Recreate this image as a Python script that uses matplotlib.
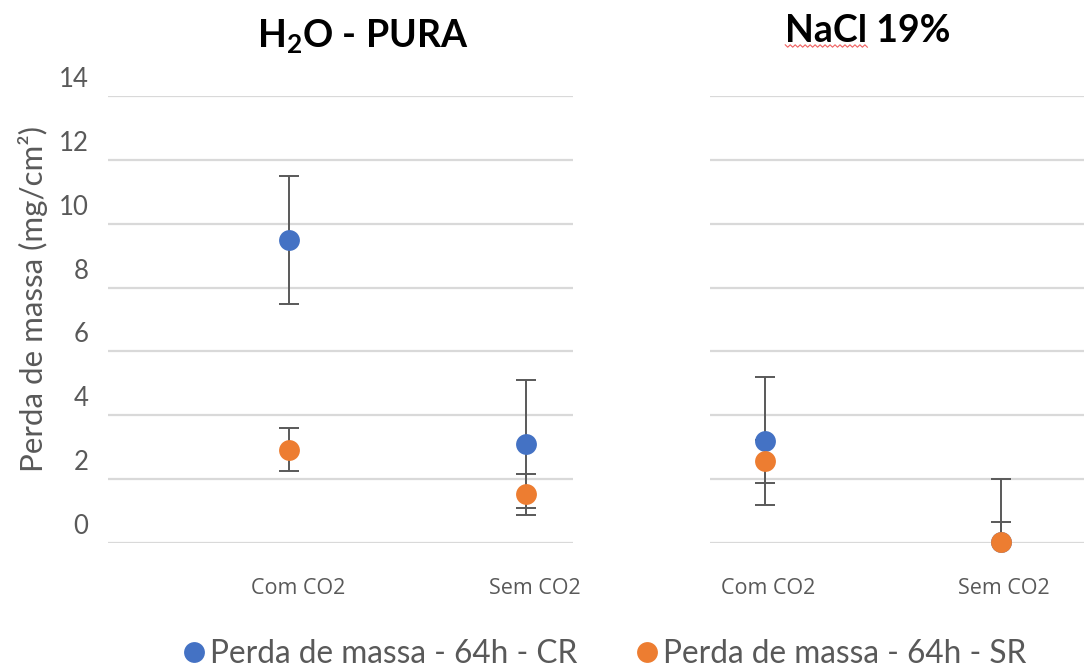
import numpy as np
import matplotlib
matplotlib.use('Agg')
import matplotlib.pyplot as plt
import matplotlib.transforms as mtransforms

plt.rcParams['font.family'] = ['Lato', 'DejaVu Sans']
plt.rcParams['mathtext.fontset'] = 'custom'
plt.rcParams['mathtext.rm'] = 'Lato'
plt.rcParams['mathtext.bf'] = 'Lato:bold'

# data
categories = ['Com CO2', 'Sem CO2']
panels = ['H$_\\mathbf{2}$O - PURA', 'NaCl 19%']
cr_vals = [[9.5, 3.1], [3.2, 0.03]]
cr_err = [[2.0, 2.0], [2.0, 1.97]]
sr_vals = [[2.92, 1.53], [2.56, 0.03]]
sr_err = [[0.67, 0.64], [0.67, 0.63]]
series_names = ['Perda de massa - 64h - CR', 'Perda de massa - 64h - SR']
yticks = [0, 2, 4, 6, 8, 10, 12, 14]

blue = '#4472C4'
orange = '#ED7D31'
grid_c = '#D9D9D9'
err_c = '#595959'
txt_c = '#595959'

W, H = 1084, 668
fig = plt.figure(figsize=(W / 100, H / 100), dpi=100)

# axes boxes in pixels: left, right, x-limits, label nudge, title centre
boxes = [(108, 573, (-0.764, 1.198), 9, (363, 37)),
         (710, 1084, (-0.233, 1.352), 3, (868, 31))]
bottom, top = 543, 96

axes = []
for i, (l, r, xl, nudge, tpos) in enumerate(boxes):
    ax = fig.add_axes([l / W, 1 - bottom / H, (r - l) / W, (bottom - top) / H])
    axes.append(ax)
    ax.set_xlim(*xl)
    ax.set_ylim(0, 14)
    ax.set_yticks(yticks)
    for y in yticks:
        ax.axhline(y, color=grid_c, lw=1.6, zorder=0)
    for s in ax.spines.values():
        s.set_visible(False)
    ax.tick_params(length=0)
    x = np.arange(len(categories))
    ax.set_xticks(x)
    ax.set_xticklabels(categories, fontsize=15.5, color=txt_c, family=['Open Sans', 'DejaVu Sans'])
    ax.tick_params(axis='x', pad=25)
    xoff = mtransforms.ScaledTranslation(nudge / 100, 0, fig.dpi_scale_trans)
    for lab in ax.get_xticklabels():
        lab.set_transform(lab.get_transform() + xoff)

    for vals, errs in [(cr_vals[i], cr_err[i]), (sr_vals[i], sr_err[i])]:
        ax.errorbar(x, vals, yerr=errs, fmt='none', ecolor=err_c, elinewidth=1.4,
                    capsize=7, capthick=1.4, zorder=2)
    for vals, col, name in [(cr_vals[i], blue, series_names[0]), (sr_vals[i], orange, series_names[1])]:
        ax.plot(x, vals, 'o', color=col, ms=15, mec='none', zorder=3, clip_on=False,
                label=name if i == 0 else None)

    if i == 0:
        ax.tick_params(axis='y', labelsize=18.5, labelcolor=txt_c, pad=14)
        off = mtransforms.ScaledTranslation(0, 19 / 100, fig.dpi_scale_trans)
        for lab in ax.get_yticklabels():
            lab.set_transform(lab.get_transform() + off)
    else:
        ax.set_yticklabels([])

titles = []
for i, (l, r, xl, nudge, tpos) in enumerate(boxes):
    t = fig.text(tpos[0] / W, 1 - tpos[1] / H, panels[i], ha='center', va='center',
                 fontsize=27, fontweight='bold', color='black')
    titles.append(t)

fig.text(33 / W, 1 - 299 / H, 'Perda de massa (mg/cm²)', rotation=90, ha='center', va='center',
         fontsize=22.5, color=txt_c)

leg = fig.legend(loc='center', bbox_to_anchor=(0.557, 1 - 654 / H), ncol=2, frameon=False,
                 fontsize=22.8, labelcolor=txt_c, handletextpad=0.1, columnspacing=1.8,
                 handlelength=0.8, markerscale=1.0)

# red spell-check squiggle under "NaCl"
fig.canvas.draw()
rr = fig.canvas.get_renderer()
tb = titles[1].get_window_extent(rr)
tmp = fig.text(0, 0, 'NaCl', fontsize=27, fontweight='bold')
wn = tmp.get_window_extent(rr).width
tmp.remove()
zx = np.linspace(tb.x0, tb.x0 + wn, 34)
zy = tb.y0 + 2 + np.where(np.arange(34) % 2 == 0, 1.2, -1.2)
fig.add_artist(plt.Line2D(zx / W, zy / H, color='#F06060', lw=0.8, transform=fig.transFigure))

fig.savefig('out.png', dpi=100)
